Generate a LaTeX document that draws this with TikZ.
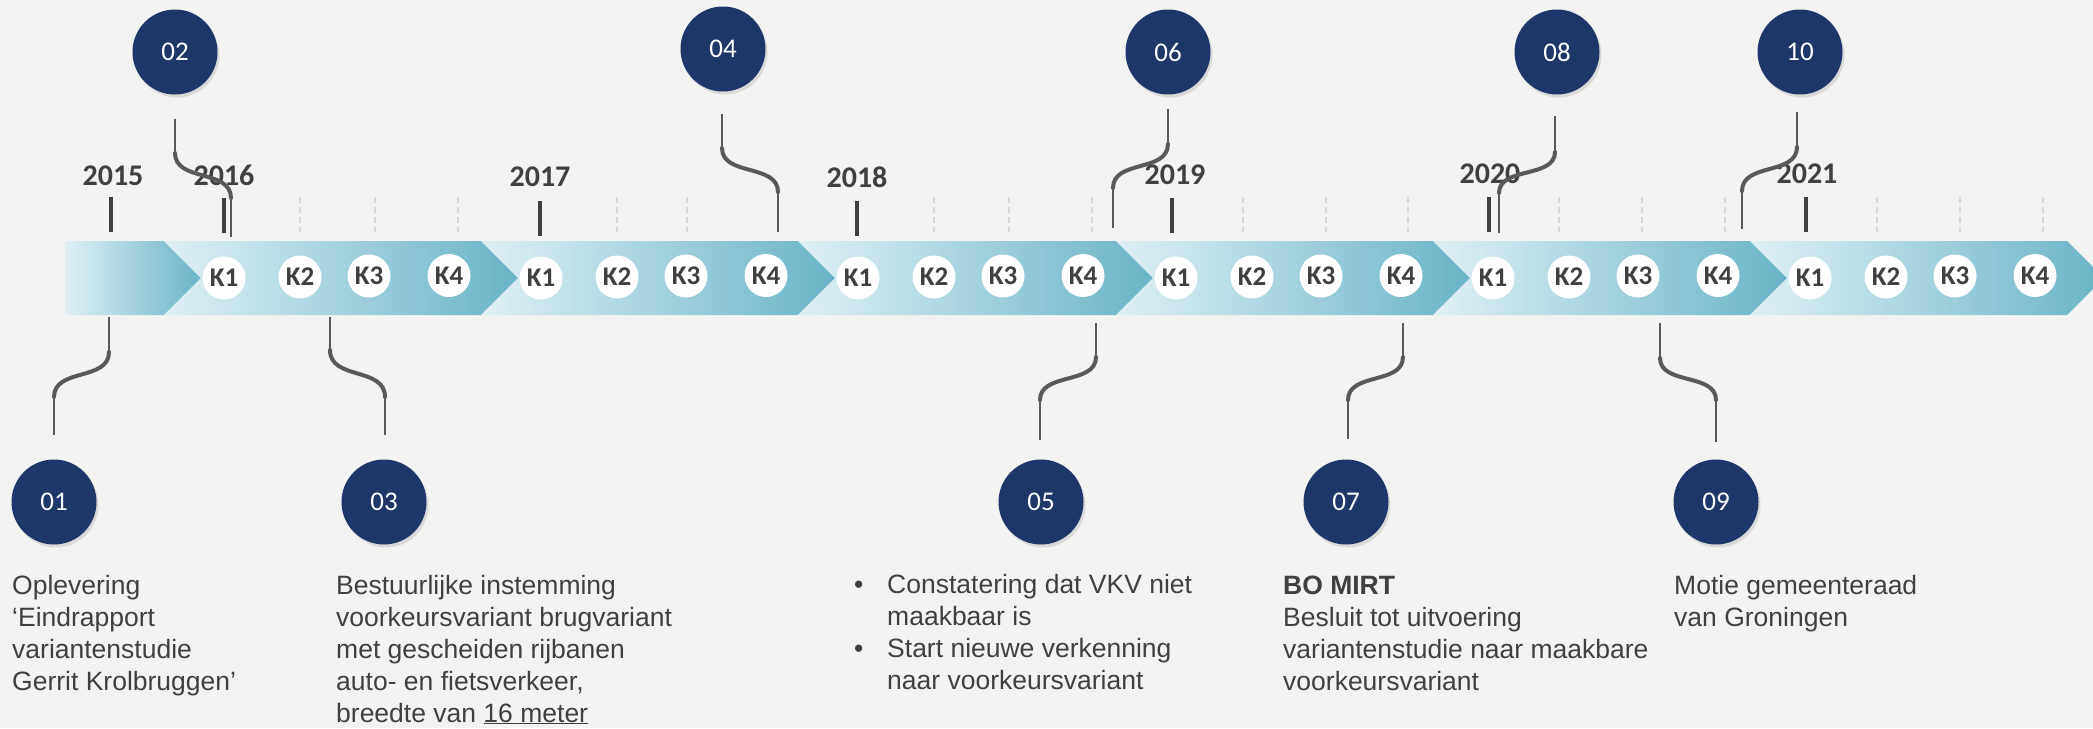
\documentclass[tikz,border=0pt]{standalone}
\usepackage{fontspec}
\setmainfont{Liberation Sans}
\newfontfamily\calfont{Carlito}
\usetikzlibrary{calc,shadows}
\definecolor{bg}{HTML}{F3F3F1}
\definecolor{navy}{HTML}{1E366A}
\definecolor{tealc}{HTML}{68B4C6}
\definecolor{pale}{HTML}{E0F0F5}
\definecolor{txt}{HTML}{404040}
\definecolor{conn}{HTML}{595959}
\definecolor{dashg}{HTML}{D6D6D4}
\newcommand\sconn[6]{%
  \draw[cstraight] (#1,#2) -- (#1,#3);
  \draw[ccurve] (#1,#3) .. controls (#1,{#3+0.65*(#5-#3)}) and (#4,{#5-0.65*(#5-#3)}) .. (#4,#5);
  \draw[cstraight] (#4,#5) -- (#4,#6);}
\begin{document}
\begin{tikzpicture}[x=1pt,y=-1pt,
  num/.style={circle, fill=navy, minimum size=85pt, inner sep=0pt, text=white,
    font=\calfont\fontsize{27}{27}\selectfont,
    drop shadow={opacity=0.22, shadow xshift=2pt, shadow yshift=-3pt}},
  kc/.style={circle, fill=white, minimum size=43pt, inner sep=0pt, text=txt,
    font=\calfont\bfseries\fontsize{27}{27}\selectfont},
  year/.style={text=txt, font=\calfont\bfseries\fontsize{30}{30}\selectfont, inner sep=0pt},
  ytick/.style={draw=txt, line width=4pt},
  qtick/.style={draw=dashg, line width=1.5pt, dash pattern=on 6pt off 4pt},
  cstraight/.style={draw=conn, line width=2pt},
  ccurve/.style={draw=conn, line width=4pt, line cap=round},
  body/.style={text=txt, font=\fontsize{26.5}{32}\selectfont, align=left, inner sep=0pt, anchor=base west}]
\fill[bg] (0,0) rectangle (2093,728);
\useasboundingbox (0,0) rectangle (2093,728);

% band segments
\shade[left color=pale, right color=tealc] (65,241) -- (164,241) -- (201,278) -- (164,315) -- (65,315) -- cycle;
\foreach \p/\c in {164/481, 481/798, 798/1116, 1116/1433, 1433/1750, 1750/2067}{
  \shade[left color=pale, right color=tealc] (\p,241) -- (\c,241) -- (\c+37,278) -- (\c,315) -- (\p,315) -- (\p+37,278) -- cycle;
}
% K circles
\foreach \c [count=\s] in {164,481,798,1116,1433,1750}{
  \node[kc] (k\s a) at (\c+60,278) {K1};
  \node[kc] (k\s b) at (\c+136,277) {K2};
  \node[kc] (k\s c) at (\c+205,276) {K3};
  \node[kc] (k\s d) at (\c+285,275.5) {K4};
}
% quarter ticks
\foreach \x in {300,375,458,617,687,934,1009,1092,1243,1326,1408,1559,1642,1725,1877,1960,2043}{
  \draw[qtick] (\x,197) -- (\x,232);
}
% years
\node[year] (y15) at (113,176) {2015};
\node[year] (y16) at (224,175) {2016};
\node[year] (y17) at (540,177) {2017};
\node[year] (y18) at (857,177) {2018};
\node[year] (y19) at (1175,175) {2019};
\node[year] (y20) at (1490,174) {2020};
\node[year] (y21) at (1807,174) {2021};
\draw[ytick] (111,197) -- (111,232);
\draw[ytick] (224,198) -- (224,233);
\draw[ytick] (540,201) -- (540,236);
\draw[ytick] (857,201) -- (857,236);
\draw[ytick] (1172,198) -- (1172,233);
\draw[ytick] (1489,197) -- (1489,232);
\draw[ytick] (1806,197) -- (1806,232);

% connectors
\sconn{175}{119}{153}{231}{198}{237}
\sconn{722}{114}{148}{778}{192}{232}
\sconn{1168}{109}{144}{1113}{188}{228}
\sconn{1555}{116}{152}{1499}{193}{233}
\sconn{1797}{112}{147}{1742}{191}{229}
\sconn{109}{317}{352}{54}{397}{435}
\sconn{330}{317}{350}{385}{397}{435}
\sconn{1096}{323}{357}{1040}{400}{440}
\sconn{1403}{323}{357}{1348}{400}{439}
\sconn{1660}{323}{358}{1716}{400}{442}

% numbered circles
\node[num] (n01) at (54,502) {01};
\node[num] (n02) at (175,52) {02};
\node[num] (n03) at (384,502) {03};
\node[num] (n04) at (723,49) {04};
\node[num] (n05) at (1041,502) {05};
\node[num] (n06) at (1168,52) {06};
\node[num] (n07) at (1346,502) {07};
\node[num] (n08) at (1557,52) {08};
\node[num] (n09) at (1716,502) {09};
\node[num] (n10) at (1800,52) {10};

% texts (base anchor = baseline of last line)
\node[body] (t01) at (12,690) {Oplevering\\‘Eindrapport\\variantenstudie\\Gerrit Krolbruggen’};
\node[body] (t03) at (336,722) {Bestuurlijke instemming\\voorkeursvariant brugvariant\\met gescheiden rijbanen\\auto- en fietsverkeer,\\breedte van \underline{16 meter}};
\node[body] (b05a) at (854,593) {•};
\node[body] (b05b) at (854,657) {•};
\node[body] (t05) at (887,689) {Constatering dat VKV niet\\maakbaar is\\Start nieuwe verkenning\\naar voorkeursvariant};
\node[body] (t07) at (1283,690) {\textbf{BO MIRT}\\Besluit tot uitvoering\\variantenstudie naar maakbare\\voorkeursvariant};
\node[body] (t09) at (1674,626) {Motie gemeenteraad\\van Groningen};
\end{tikzpicture}
\end{document}
